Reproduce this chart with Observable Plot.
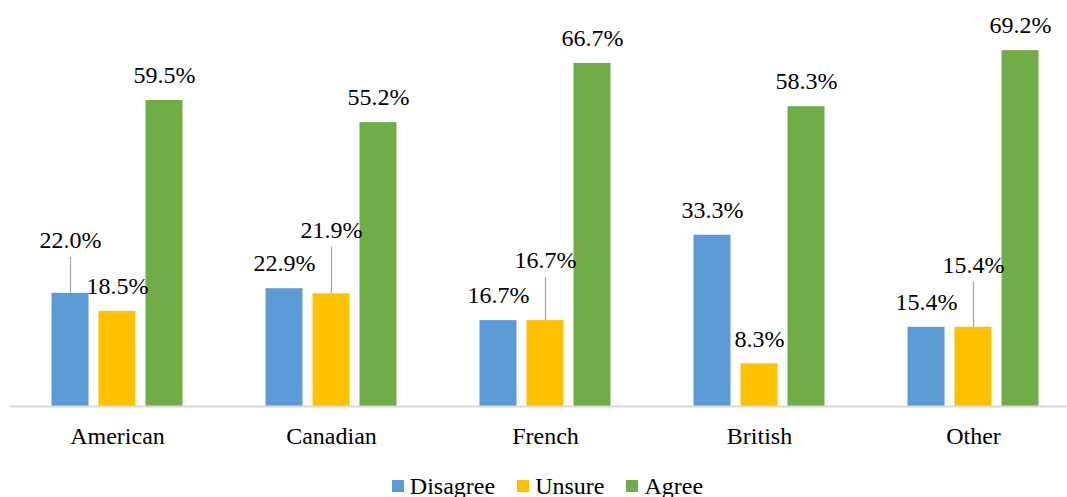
<!DOCTYPE html>
<html>
<head>
<meta charset="utf-8">
<script src="https://cdn.jsdelivr.net/npm/d3@7"></script>
<script src="https://cdn.jsdelivr.net/npm/@observablehq/plot@0.6"></script>
<style>
  html, body { margin: 0; padding: 0; background: #fff; }
  #chart { width: 1067px; font-family: 'Liberation Serif'; }
  .legend { display: flex; justify-content: center; align-items: center; margin-top: 4px; padding-left: 28px;
            font-family: 'Liberation Serif'; font-size: 24px; line-height: 24px; color: #000; }
  .legend .item { display: flex; align-items: center; margin: 0 11px; font-family: 'Liberation Serif'; }
  .legend .sw { width: 12px; height: 12px; margin-right: 6px; display: inline-block; }
</style>
</head>
<body>
<div id="chart"></div>
<script>
// ---- data ----
const groups = ["American", "Canadian", "French", "British", "Other"];
const series = ["Disagree", "Unsure", "Agree"];
const disagree = [22.0, 22.9, 16.7, 33.3, 15.4];
const unsure   = [18.5, 21.9, 16.7, 8.3, 15.4];
const agree    = [59.5, 55.2, 66.7, 58.3, 69.2];
const colors = ["#5b9bd5", "#ffc000", "#70ad47"];

// data labels that were moved up with a leader line: [group, series, lift in px]
const movedLabels = [
  ["American", "Disagree", 53],
  ["Canadian", "Unsure", 64],
  ["French", "Unsure", 60],
  ["Other", "Unsure", 62]
];

const valuesBySeries = {Disagree: disagree, Unsure: unsure, Agree: agree};
const rows = [];
groups.forEach((g, i) => {
  series.forEach(s => {
    const moved = movedLabels.find(m => m[0] === g && m[1] === s);
    rows.push({group: g, series: s, value: valuesBySeries[s][i], lift: moved ? moved[2] : 25, leader: !!moved});
  });
});

const W = 1067, H = 470, mT = 46, mB = 64;
const yMax = 70;
const pxPerUnit = (H - mT - mB) / yMax;
const font = "Liberation Serif";

const plot = Plot.plot({
  width: W,
  height: H,
  marginTop: mT,
  marginBottom: mB,
  marginLeft: 9.5,
  marginRight: -12.5,
  style: {fontFamily: font, background: "#fff"},
  fx: {domain: groups, padding: 0, label: null},
  x: {domain: series, paddingInner: 0.22, paddingOuter: 0.86, axis: null},
  y: {domain: [0, yMax], axis: null},
  color: {domain: series, range: colors},
  marks: [
    Plot.axisFx({anchor: "bottom", tickSize: 0, tickPadding: 20, fontSize: 24, fontFamily: font, fill: "#000", label: null}),
    Plot.barY(rows, {fx: "group", x: "series", y: "value", fill: "series"}),
    Plot.ruleY([0], {stroke: "#d9d9d9", strokeWidth: 2}),
    Plot.ruleX(rows.filter(d => d.leader), {
      fx: "group", x: "series",
      y1: "value",
      y2: d => d.value + (d.lift - 17) / pxPerUnit,
      stroke: "#a6a6a6", strokeWidth: 1.2
    }),
    Plot.text(rows, {
      fx: "group", x: "series",
      y: d => d.value + d.lift / pxPerUnit,
      text: d => d.value.toFixed(1) + "%",
      fontSize: 24, fontFamily: font, fill: "#000", lineAnchor: "middle"
    })
  ]
});

document.getElementById("chart").appendChild(plot);

const legend = document.createElement("div");
legend.className = "legend";
series.forEach((s, i) => {
  const item = document.createElement("span");
  item.className = "item";
  const sw = document.createElement("span");
  sw.className = "sw";
  sw.style.background = colors[i];
  item.appendChild(sw);
  item.appendChild(document.createTextNode(s));
  legend.appendChild(item);
});
document.getElementById("chart").appendChild(legend);
</script>
</body>
</html>
